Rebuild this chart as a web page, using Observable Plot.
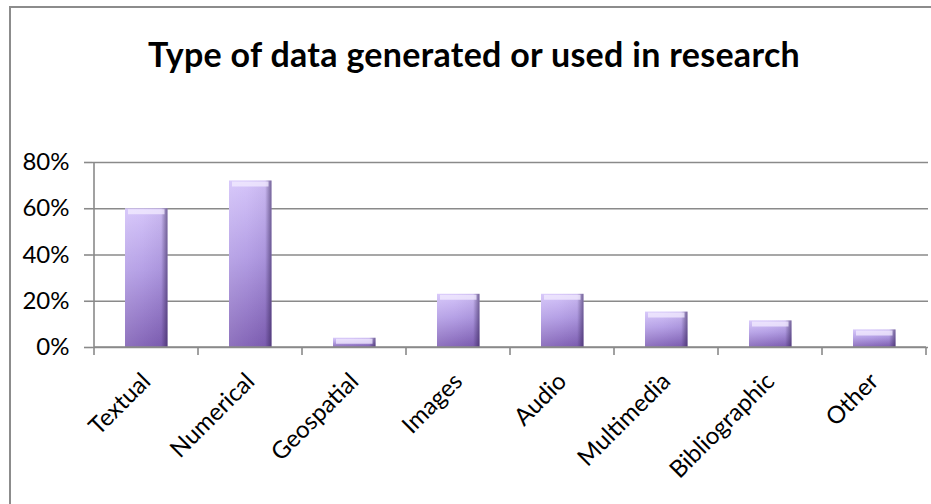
<!DOCTYPE html>
<html><head><meta charset="utf-8">
<script src="https://cdn.jsdelivr.net/npm/d3@7"></script>
<script src="https://cdn.jsdelivr.net/npm/@observablehq/plot@0.6"></script>
<style>
body{margin:0;background:#fff;}
#wrap{position:relative;width:931px;height:504px;overflow:hidden;font-family:Lato,sans-serif;background:#fff;}
#frame{position:absolute;left:9px;top:6px;width:960px;height:540px;border:2px solid #8c8c8c;box-sizing:border-box;}
#title{position:absolute;left:17px;right:0;top:37px;text-align:center;font-weight:bold;font-size:34px;letter-spacing:0.3px;line-height:1;color:#000;margin:0;}
#chart{position:absolute;left:0;top:0;}
</style></head>
<body>
<div id="wrap">
  <div id="frame"></div>
  <h2 id="title">Type of data generated or used in research</h2>
  <div id="chart"></div>
</div>
<script>
const categories = ["Textual","Numerical","Geospatial","Images","Audio","Multimedia","Bibliographic","Other"];
const shares = [0.60, 0.72, 0.04, 0.23, 0.23, 0.153, 0.115, 0.076];
const yTicks = [0, 0.2, 0.4, 0.6, 0.8];

const data = categories.map((c, i) => ({category: c, share: shares[i]}));

function defs() {
  const svg = d3.create("svg:defs");
  const v = svg.append("linearGradient").attr("id","barGradV").attr("x1",0).attr("y1",0).attr("x2",0).attr("y2",1);
  v.append("stop").attr("offset","0%").attr("stop-color","#d3c2f9");
  v.append("stop").attr("offset","45%").attr("stop-color","#b19be4");
  v.append("stop").attr("offset","100%").attr("stop-color","#7f5fb4");
  const h = svg.append("linearGradient").attr("id","barGradH").attr("x1",0).attr("y1",0).attr("x2",1).attr("y2",0);
  h.append("stop").attr("offset","0%").attr("stop-color","#ffffff").attr("stop-opacity",0.12);
  h.append("stop").attr("offset","40%").attr("stop-color","#ffffff").attr("stop-opacity",0.05);
  h.append("stop").attr("offset","85%").attr("stop-color","#2a1a4a").attr("stop-opacity",0.05);
  h.append("stop").attr("offset","100%").attr("stop-color","#2a1a4a").attr("stop-opacity",0.55);
  return svg.node();
}

function axesLines(index, scales) {
  const x = scales.x, y = scales.y;
  const bw = x.bandwidth();
  const edges = categories.map(c => x(c)).concat([x(categories[categories.length - 1]) + bw]);
  const y0 = y(0);
  const g = d3.create("svg:g").attr("stroke", "#8a8a8a").attr("stroke-width", 1.6);
  edges.forEach(e => g.append("line").attr("x1", e).attr("x2", e).attr("y1", y0).attr("y2", y0 + 8));
  g.append("line").attr("x1", edges[0]).attr("x2", edges[0]).attr("y1", y(yTicks[yTicks.length - 1])).attr("y2", y0);
  g.append("line").attr("x1", edges[0]).attr("x2", edges[edges.length - 1]).attr("y1", y0).attr("y2", y0);
  return g.node();
}

const plot = Plot.plot({
  width: 931,
  height: 504,
  marginLeft: 92,
  marginRight: 3,
  marginTop: 162,
  marginBottom: 157,
  style: {fontFamily: "Lato, sans-serif", fontSize: "22px", color: "#000", background: "transparent", overflow: "visible"},
  x: {domain: categories, padding: 0, label: null},
  y: {domain: [0, 0.8], label: null},
  marks: [
    defs,
    Plot.gridY(yTicks, {stroke: "#8a8a8a", strokeOpacity: 1, strokeWidth: 1.6}),
    Plot.barY(data, {x: "category", y: "share", fill: "url(#barGradV)", insetLeft: 31, insetRight: 30.5}),
    Plot.barY(data, {x: "category", y: "share", fill: "url(#barGradH)", insetLeft: 31, insetRight: 30.5}),
    Plot.tickY(data, {x: "category", y: "share", stroke: "#f3ecff", strokeOpacity: 0.75, strokeWidth: 5, dy: 3, insetLeft: 34, insetRight: 33.5}),
    axesLines,
    Plot.axisY(yTicks, {tickFormat: d => Math.round(d * 100) + "%", tickSize: 8, tickPadding: 15, stroke: "#8a8a8a", strokeWidth: 1.6, fontSize: 24, fill: "#000"}),
    Plot.axisX({tickRotate: -45, tickSize: 0, tickPadding: 30, fontSize: 24, fill: "#000"})
  ]
});
document.getElementById("chart").appendChild(plot);
</script>
</body></html>
